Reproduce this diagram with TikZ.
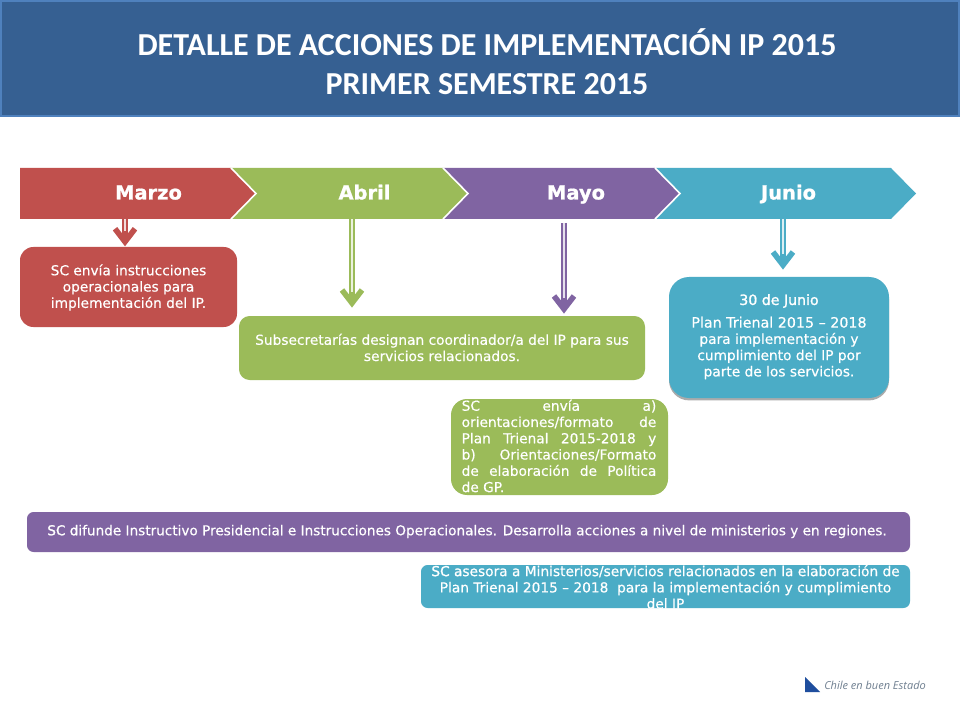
\documentclass[tikz,border=0pt]{standalone}
\usepackage{fontspec}
\usetikzlibrary{shadows}
\setmainfont{Liberation Sans}
\newfontfamily\titlefont{Carlito}
\newfontfamily\monthfont{DejaVu Sans}[BoldFeatures={RawFeature={embolden=1.0}}]
\newfontfamily\bodyfont{DejaVu Sans}[RawFeature={embolden=0.4}]
\newfontfamily\strongfont{DejaVu Sans}[RawFeature={embolden=1.4}]
\newfontfamily\logofont{Open Sans}
\definecolor{cred}{HTML}{C0504D}
\definecolor{cgreen}{HTML}{9BBB59}
\definecolor{cpurple}{HTML}{8064A2}
\definecolor{cteal}{HTML}{4BACC6}
\definecolor{chead}{HTML}{366092}
\definecolor{cheadline}{HTML}{4F81BD}
\definecolor{clogo}{HTML}{1F4E9E}
\definecolor{clogotext}{HTML}{6F7F90}
\tikzset{
  titletext/.style={text=white,align=center,font=\titlefont\bfseries\fontsize{24pt}{29.25pt}\selectfont},
  monthtext/.style={anchor=base,text=white,font=\monthfont\bfseries\fontsize{14.6pt}{17pt}\selectfont,inner sep=0pt},
  chevedge/.style={draw=white,line width=1.2pt,line join=miter},
  boxnode/.style={text=white,align=center,inner sep=0pt,font=\bodyfont\fontsize{10.3pt}{12.2pt}\selectfont},
  shaft/.style={line width=4.2pt},
  core/.style={draw=white,line width=0.9pt,opacity=.8},
  barb/.style={line width=4.2pt,line join=miter,miter limit=10},
}
\newcommand{\connect}[3]{%
  \draw[shaft,#3] (#1) -- ([yshift=3pt]#2);
  \draw[barb,#3] ([shift={(-10,-18)}]#2) -- ([shift={(0,-5)}]#2) -- ([shift={(10,-18)}]#2);
  \draw[core] (#1) -- ([yshift=12pt]#2);}
\newcommand{\sline}[1]{\makebox[146pt][s]{#1}}
\begin{document}
\begin{tikzpicture}[x=0.75pt,y=-0.75pt]
\useasboundingbox (0,0) rectangle (960,720);
\fill[white] (0,0) rectangle (960,720);
% header
\node[draw=cheadline,fill=chead,line width=1.5pt,minimum width=718.5pt,minimum height=86.5pt,inner sep=0pt] (header) at (480,58.5) {};
\node[titletext] (title) at (487,62) {DETALLE DE ACCIONES DE IMPLEMENTACIÓN IP 2015\\PRIMER SEMESTRE 2015};
% chevrons
\fill[cteal] (656,168) -- (891,168) -- (916,193.5) -- (891,219) -- (656,219) -- (680,193.5) -- cycle;
\fill[cpurple] (443,168) -- (655,168) -- (680,193.5) -- (655,219) -- (443,219) -- (468,193.5) -- cycle;
\draw[chevedge] (655,168) -- (680,193.5) -- (655,219);
\fill[cgreen] (231,168) -- (443,168) -- (468,193.5) -- (443,219) -- (231,219) -- (256,193.5) -- cycle;
\draw[chevedge] (443,168) -- (468,193.5) -- (443,219);
\fill[cred] (20,168) -- (231,168) -- (256,193.5) -- (231,219) -- (20,219) -- cycle;
\draw[chevedge] (231,168) -- (256,193.5) -- (231,219);
\node[monthtext] (marzo) at (148.5,199.5) {Marzo};
\node[monthtext] (abril) at (364.5,199.5) {Abril};
\node[monthtext] (mayo) at (576,199.5) {Mayo};
\node[monthtext] (junio) at (788.5,199.5) {Junio};
% boxes
\node[fill=cred,rounded corners=10pt,minimum width=162.75pt,minimum height=60pt,inner sep=0pt] (bm) at (128.5,287) {};
\node[boxnode] (tm) at (128.5,287.5) {SC envía instrucciones\\operacionales para\\implementación del IP.};
\node[fill=cgreen,rounded corners=8pt,minimum width=304.5pt,minimum height=48pt,inner sep=0pt] (ba) at (442,348) {};
\node[boxnode] (ta) at (442,347.5) {Subsecretarías designan coordinador/a del IP para sus\\servicios relacionados.};
\node[fill=cgreen,rounded corners=12pt,minimum width=162.75pt,minimum height=72pt,inner sep=0pt] (bmy) at (559.5,447) {};
\node[boxnode,align=left] (tmy) at (559,446) {\sline{SC envía a)}\\\sline{orientaciones/formato de}\\\sline{Plan Trienal 2015-2018 y}\\\sline{b) Orientaciones/Formato}\\\sline{de elaboración de Política}\\de GP.};
\node[fill=cteal,rounded corners=15pt,minimum width=165pt,minimum height=90.75pt,inner sep=0pt,drop shadow={shadow xshift=0pt,shadow yshift=-1.8pt,fill=black!55,opacity=.6}] (bj) at (779,337.5) {};
\node[boxnode] (tj1) at (779,301) {\strongfont\fontsize{10.6pt}{12pt}\selectfont 30 de Junio};
\node[boxnode] (tj2) at (779,348) {\fontsize{10.7pt}{12.4pt}\selectfont Plan Trienal 2015 – 2018\\para implementación y\\cumplimiento del IP por\\parte de los servicios.};
\node[fill=cpurple,rounded corners=5pt,minimum width=662.25pt,minimum height=30pt,inner sep=0pt] (bp) at (468.5,532) {};
\node[boxnode] (tp) at (467,531.5) {\fontsize{10.2pt}{12pt}\selectfont {\strongfont SC d}ifunde Instructivo Presidencial e Instrucciones Operacionales. Desarrolla acciones a nivel de ministerios y en regiones.};
\node[fill=cteal,rounded corners=5pt,minimum width=366.75pt,minimum height=32.25pt,inner sep=0pt] (bt) at (665.5,586.5) {};
\node[boxnode] (tt) at (665.5,587) {{\strongfont SC a}sesora a Ministerios/servicios relacionados en la elaboración de\\Plan Trienal 2015 – 2018~ para la implementación y cumplimiento\\del IP};
% connectors
\coordinate (om) at (125,219);
\coordinate (oa) at (352,219);
\coordinate (oy) at (564,223);
\coordinate (oj) at (783,219);
\coordinate (ea) at (352,308);
\coordinate (ey) at (564,314);
\coordinate (ej) at (783,270);
\connect{om}{om |- bm.north}{cred}
\connect{oa}{ea}{cgreen}
\connect{oy}{ey}{cpurple}
\connect{oj}{ej}{cteal}
% logo
\fill[clogo] (805,677) -- (820,692) -- (805,692) -- cycle;
\node[anchor=west,inner sep=0pt,text=clogotext,font=\logofont\itshape\fontsize{8.25pt}{9pt}\selectfont] (logo) at (824,685) {Chile en buen Estado};
\end{tikzpicture}
\end{document}
